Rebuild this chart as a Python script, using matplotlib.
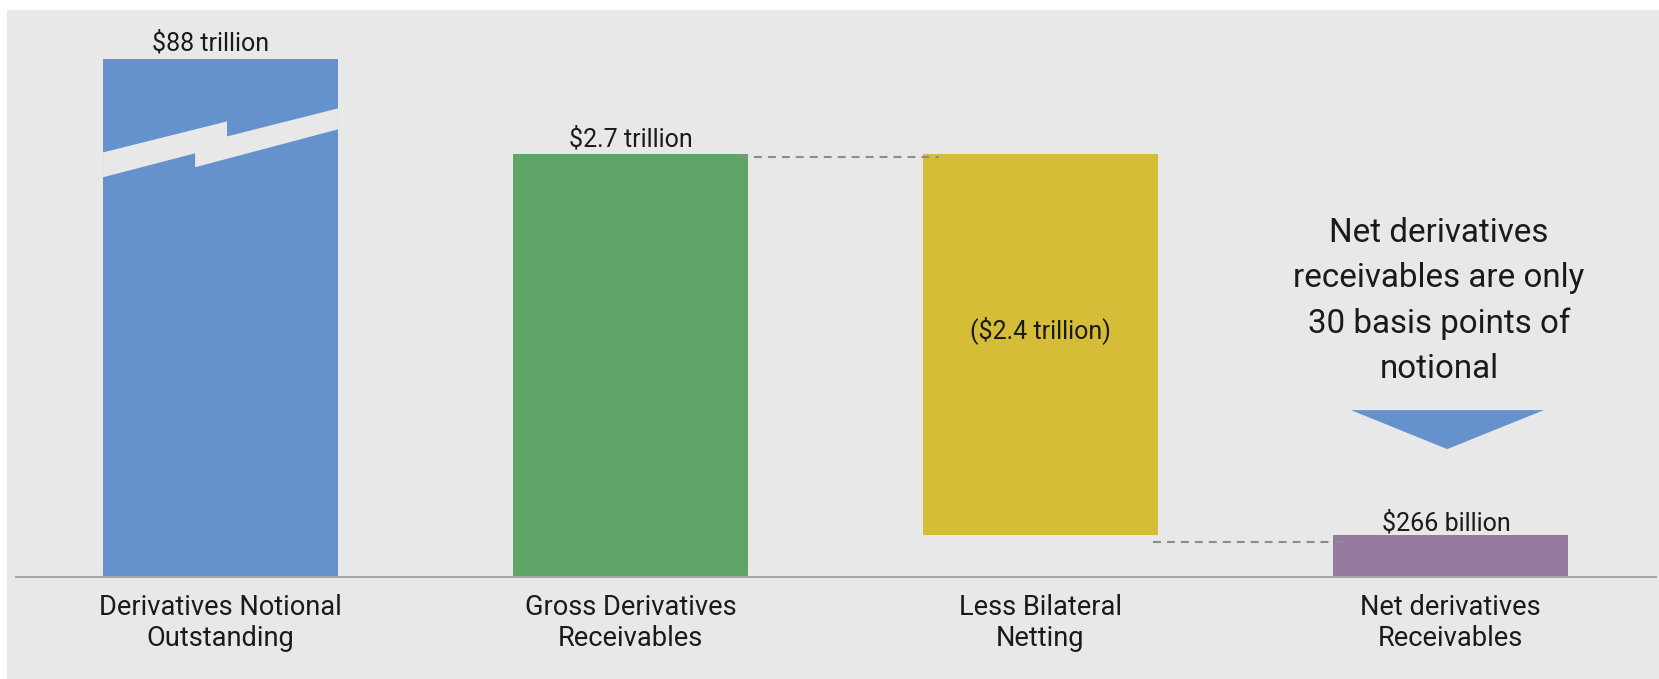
import matplotlib.pyplot as plt
from matplotlib.patches import Rectangle, Polygon
from matplotlib.transforms import offset_copy

plt.rcParams['font.family'] = ['Roboto', 'DejaVu Sans']

categories = ['Derivatives Notional\nOutstanding', 'Gross Derivatives\nReceivables',
              'Less Bilateral\nNetting', 'Net derivatives\nReceivables']
notional = 88.0          # trillion, bar is drawn broken
notional_shown = 3.31    # height the broken bar is drawn to
gross = 2.7
netting = -2.434
net = 0.266
value_labels = ['$88 trillion', '$2.7 trillion', '($2.4 trillion)', '$266 billion']
note = 'Net derivatives\nreceivables are only\n30 basis points of\nnotional'

bg = '#E8E8E8'
colors = ['#6592CC', '#5EA567', '#D6BD38', '#977AA0']

W, H = 1659, 679
fig = plt.figure(figsize=(W / 100, H / 100), dpi=100)
fig.patch.set_facecolor('white')
fig.add_artist(Rectangle((7 / W, 0), 1, (H - 10) / H, transform=fig.transFigure,
                         facecolor=bg, edgecolor='none', zorder=0))

ax = fig.add_axes([15.5 / W, 102 / H, 1640 / W, 548 / H])
ax.set_facecolor('none')
ax.set_xlim(-0.5, 3.5)
ax.set_ylim(0, 3.5)

w = 0.573
x = [0, 1, 2, 3]
bottoms = [0, 0, gross + netting, 0]
heights = [notional_shown, gross, -netting, net]
ax.bar(x, heights, bottom=bottoms, width=w, color=colors, zorder=2)

# break mark on the notional bar
h = w / 2
brk = [(-h, 2.712), (0.016, 2.910), (0.016, 2.814), (h, 2.993),
       (h, 2.859), (-0.062, 2.617), (-0.062, 2.706), (-h, 2.553)]
ax.add_patch(Polygon(brk, closed=True, facecolor=bg, edgecolor='none', zorder=3))

# connector lines (sit a few pixels below the bar edges, as in the original)
ax.plot([1 + h - 0.02, 2 - h + 0.04], [gross, gross], color='#8C8C8C', lw=1.5,
        dashes=(3.8, 2.9), zorder=4,
        transform=offset_copy(ax.transData, fig, y=-3, units='dots'))
ax.plot([2 + h - 0.012, 3 - h + 0.024], [net, net], color='#8C8C8C', lw=1.5,
        dashes=(3.8, 2.9), zorder=4,
        transform=offset_copy(ax.transData, fig, y=-7, units='dots'))

# value labels
tops = [notional_shown, gross, None, net]
shifts = [(-7, 2), (0, 2), None, (-3, 0)]
for i in (0, 1, 3):
    ax.annotate(value_labels[i], (x[i], tops[i]), xytext=shifts[i], textcoords='offset points',
                ha='center', va='bottom', fontsize=18, color='#1a1a1a', zorder=5)
ax.text(2, 1.58, value_labels[2], ha='center', va='center', fontsize=18,
        color='#1a1a1a', zorder=5)

# callout
ax.text(2.972, 1.765, note, ha='center', va='center', fontsize=23.9,
        linespacing=1.52, color='#1a1a1a')
ax.add_patch(Polygon([(2.757, 1.066), (3.228, 1.066), (2.992, 0.817)], closed=True,
                     facecolor=colors[0], edgecolor='none'))

ax.set_xticks(x)
ax.set_xticklabels(categories, fontsize=19.6, color='#1a1a1a', linespacing=1.2)
ax.tick_params(axis='x', length=0, pad=12)
ax.set_yticks([])
for s in ('left', 'right', 'top'):
    ax.spines[s].set_visible(False)
ax.spines['bottom'].set_color('#A6A6A6')
ax.spines['bottom'].set_linewidth(1.5)

fig.savefig('out.png', dpi=100, facecolor=fig.get_facecolor())
